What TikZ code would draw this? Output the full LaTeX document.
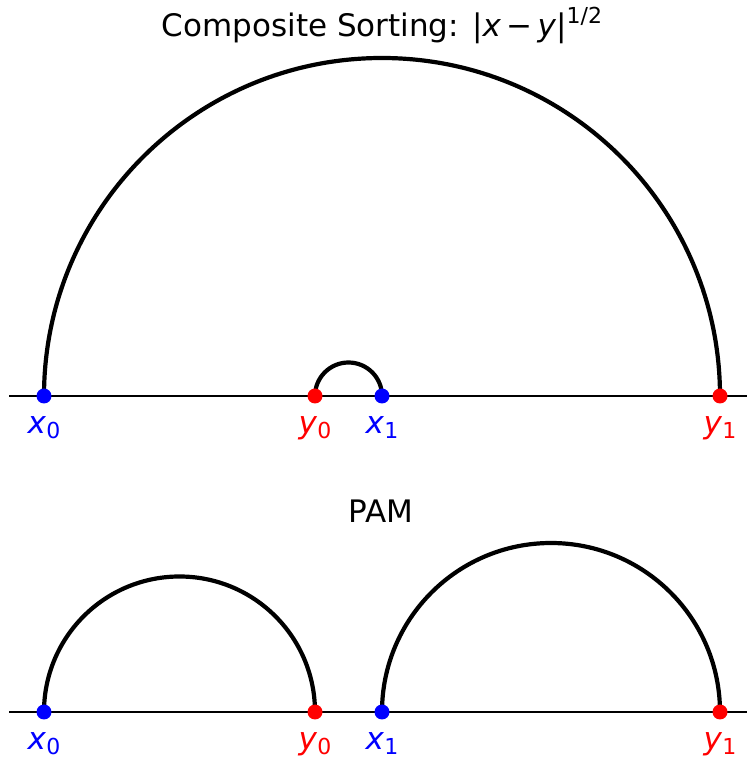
\documentclass[tikz,border=0pt]{standalone}
\usepackage{fontspec}
\setmainfont{DejaVu Sans}
\newcommand{\sub}[2]{\textit{#1}\raisebox{-0.16em}{\fontsize{22}{26}\selectfont #2}}
\tikzset{
  axis/.style={line width=2pt},
  pair/.style={line width=4.2pt},
  lbl/.style={anchor=base, font=\fontsize{31}{37}\selectfont},
}
\begin{document}
\begin{tikzpicture}[x=1pt, y=1pt]
    \useasboundingbox (0,0) rectangle (747,761);
    \node[lbl] (title) at (382,724) {Composite Sorting: |\textit{x}\,−\,\textit{y}|\raisebox{0.45em}{\fontsize{22}{26}\selectfont 1/2}};
    \node[lbl] (pam) at (381,238) {PAM};

    % top panel
    \coordinate (TL) at (9,365);
    \coordinate (TR) at (747,365);
    \coordinate (TX0) at (44,365);
    \coordinate (TY0) at (315,365);
    \coordinate (TX1) at (382,365);
    \coordinate (TY1) at (720,365);
    \draw[axis] (TL) -- (TR);
    \draw[pair] (TX0) arc[start angle=180, end angle=0, radius=338];
    \draw[pair] (TY0) arc[start angle=180, end angle=0, radius=33.5];

    % bottom panel
    \coordinate (BL) at (9,49);
    \coordinate (BR) at (747,49);
    \coordinate (BX0) at (44,49);
    \coordinate (BY0) at (315,49);
    \coordinate (BX1) at (382,49);
    \coordinate (BY1) at (720,49);
    \draw[axis] (BL) -- (BR);
    \draw[pair] (BX0) arc[start angle=180, end angle=0, radius=135.5];
    \draw[pair] (BX1) arc[start angle=180, end angle=0, radius=169];

    \foreach \p/\c/\n/\i in {TX0/blue/x/0, TY0/red/y/0, TX1/blue/x/1, TY1/red/y/1,
                             BX0/blue/x/0, BY0/red/y/0, BX1/blue/x/1, BY1/red/y/1} {
      \fill[\c] (\p) circle (7.5);
      \node[lbl, text=\c] (l\p) at ([yshift=-38]\p) {\sub{\n}{\i}};
    }
\end{tikzpicture}
\end{document}
